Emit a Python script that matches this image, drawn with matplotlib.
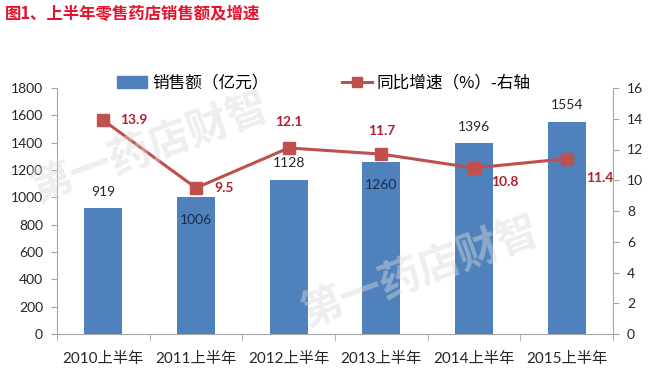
import matplotlib
matplotlib.use("Agg")
import matplotlib.pyplot as plt
from matplotlib.lines import Line2D
from matplotlib.patches import Patch

plt.rcParams['font.family'] = ['Lato', 'Noto Sans CJK SC', 'DejaVu Sans']

categories = ['2010上半年', '2011上半年', '2012上半年', '2013上半年', '2014上半年', '2015上半年']
sales = [919, 1006, 1128, 1260, 1396, 1554]
growth = [13.9, 9.5, 12.1, 11.7, 10.8, 11.4]
left_ticks = [0, 200, 400, 600, 800, 1000, 1200, 1400, 1600, 1800]
right_ticks = [0, 2, 4, 6, 8, 10, 12, 14, 16]

bar_color = '#4F81BD'
line_color = '#C0504D'
label_red = '#B0202E'

fig = plt.figure(figsize=(6.51, 3.79), dpi=100)
ax = fig.add_axes([57/651, 1-334/379, (613-57)/651, (334-88)/379])
ax2 = ax.twinx()

x = list(range(len(categories)))
ax.bar(x, sales, width=0.41, color=bar_color, zorder=2)
ax.set_xlim(-0.5, len(categories)-0.5)
ax.set_ylim(0, 1800)
ax.set_yticks(left_ticks)
ax.set_yticklabels([str(v) for v in left_ticks], fontsize=10, color='#262626')
ax.set_xticks(x)
ax.set_xticklabels(categories, fontsize=11, color='#262626')
ax.tick_params(axis='x', length=0, pad=13)
ax.set_xticks([i-0.5 for i in range(len(categories)+1)], minor=True)
ax.tick_params(axis='x', which='minor', length=5, color='#A6A6A6', direction='out')
ax.tick_params(axis='y', length=4, color='#A6A6A6', pad=6)

ax.spines['top'].set_visible(False)
ax.spines['right'].set_visible(False)
ax.spines['left'].set_color('#A6A6A6')
ax.spines['bottom'].set_color('#A6A6A6')
ax2.spines['left'].set_visible(False)
ax2.spines['bottom'].set_visible(False)
ax2.spines['top'].set_visible(False)
ax2.spines['right'].set_color('#A6A6A6')

# bar value labels: inside for 1006 and 1260
inside = {1, 3}
for i, v in enumerate(sales):
    if i in inside:
        ax.annotate(str(v), (i, v), xytext=(0, -17), textcoords='offset points',
                    ha='center', va='center', fontsize=10, color='#1F2A44', zorder=5)
    else:
        ax.annotate(str(v), (i, v), xytext=(0, 12), textcoords='offset points',
                    ha='center', va='center', fontsize=10, color='#262626', zorder=5)

ax2.plot(x, growth, color=line_color, lw=2.2, marker='s', markersize=8,
         markerfacecolor=line_color, markeredgecolor=line_color, zorder=4)
ax2.set_ylim(0, 16)
ax2.set_yticks(right_ticks)
ax2.set_yticklabels([str(v) for v in right_ticks], fontsize=10, color='#262626')
ax2.tick_params(axis='y', length=4, color='#A6A6A6', pad=6)

offsets = [(22, 0), (20, 0), (0, 19), (0, 17), (22, -10), (24, -14)]
for i, v in enumerate(growth):
    dx, dy = offsets[i]
    ax2.annotate(f'{v}', (i, v), xytext=(dx, dy), textcoords='offset points',
                 ha='center', va='center', fontsize=10, fontweight='bold',
                 color=label_red, zorder=6)

# legend
handles = [Patch(facecolor=bar_color, edgecolor=bar_color),
           Line2D([0], [0], color=line_color, lw=2.2, marker='s', markersize=7)]
fig.legend(handles, ['销售额（亿元）', '同比增速（%）-右轴'], ncol=2, frameon=False,
           loc='center', bbox_to_anchor=(324/651, 1-83/379),
           columnspacing=4.4, handlelength=1.8, handletextpad=0.3,
           prop={'family': ['Noto Sans CJK SC'], 'size': 12})

# watermark
fig.text(150/651, 1-148/379, '第一药店财智', fontsize=30, fontweight='bold',
         color='#D9D9D9', alpha=0.45, rotation=20, ha='center', va='center',
         family=['Noto Sans CJK SC'], zorder=0)
fig.text(420/651, 1-272/379, '第一药店财智', fontsize=30, fontweight='bold',
         color='#D9D9D9', alpha=0.45, rotation=20, ha='center', va='center',
         family=['Noto Sans CJK SC'], zorder=0)

# title
fig.text(5/651, 1-14/379, '图1、上半年零售药店销售额及增速', fontsize=11.8, fontweight='bold',
         color='#E8102A', ha='left', va='center', family=['Noto Sans CJK SC'])

fig.savefig('out.png', dpi=100)
